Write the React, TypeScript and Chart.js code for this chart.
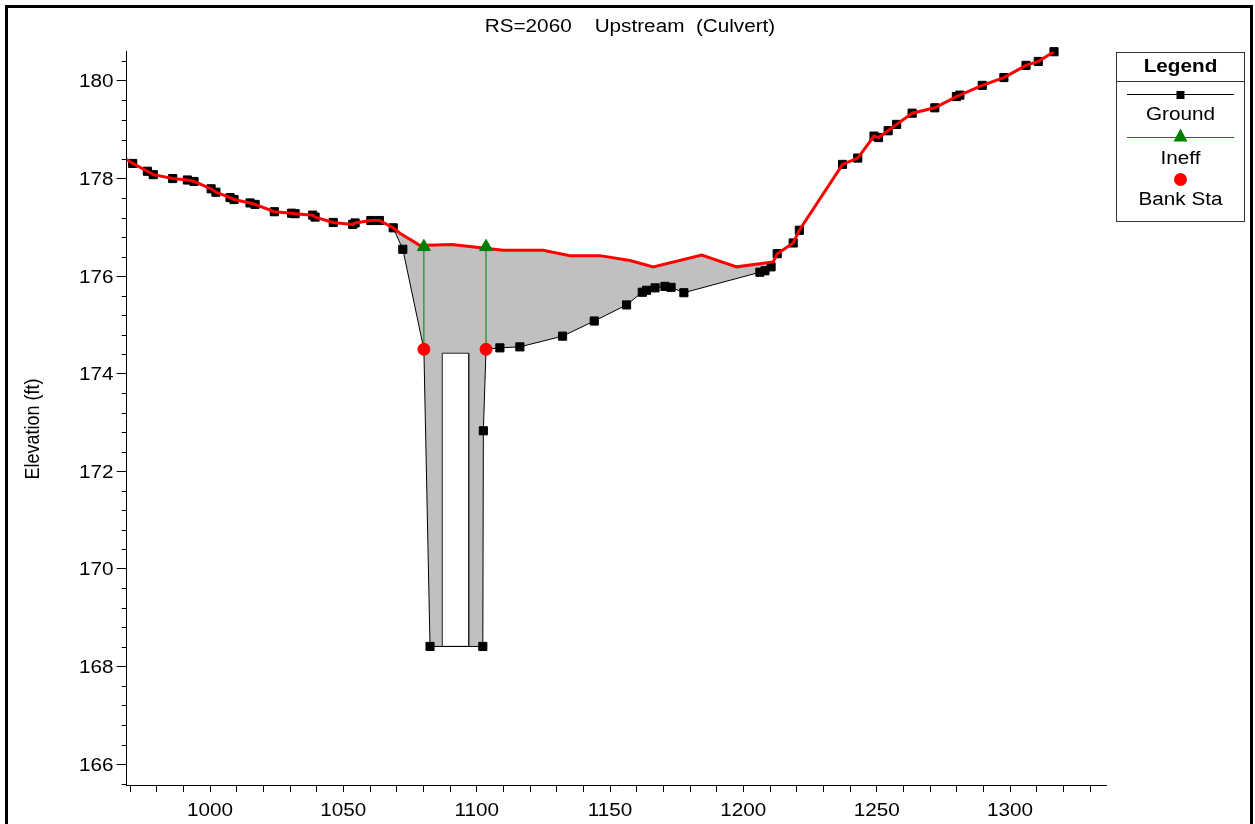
import React, { useEffect, useRef } from 'react';
import { Chart, registerables } from 'chart.js';

Chart.register(...registerables);

// ---- Cross-section data (station ft, elevation ft) ----
const groundSta = [971.0, 976.5, 978.7, 986.0, 991.5, 994.0, 1000.4, 1002.2, 1007.5, 1009.0, 1015.0, 1016.9, 1024.1, 1030.6, 1031.9, 1038.5, 1039.4, 1046.2, 1053.5, 1054.4, 1060.3, 1063.5, 1068.7, 1072.3, 1080.2, 1082.5, 1102.3, 1102.5, 1103.5, 1108.7, 1116.2, 1132.2, 1144.1, 1156.2, 1162.1, 1163.7, 1166.9, 1170.6, 1172.9, 1177.7, 1206.2, 1208.1, 1210.4, 1212.7, 1218.7, 1221.0, 1237.2, 1242.9, 1249.0, 1250.7, 1254.3, 1257.5, 1263.3, 1271.8, 1279.9, 1281.2, 1289.6, 1297.7, 1306.0, 1310.6, 1316.5];
const groundElev = [178.31, 178.15, 178.08, 178.00, 177.97, 177.94, 177.79, 177.72, 177.61, 177.57, 177.50, 177.47, 177.32, 177.29, 177.28, 177.25, 177.21, 177.10, 177.06, 177.09, 177.14, 177.14, 176.99, 176.55, 174.50, 168.41, 168.41, 172.83, 174.50, 174.53, 174.55, 174.77, 175.08, 175.41, 175.67, 175.71, 175.76, 175.79, 175.77, 175.66, 176.08, 176.11, 176.19, 176.46, 176.68, 176.94, 178.29, 178.42, 178.87, 178.84, 178.98, 179.11, 179.34, 179.45, 179.68, 179.71, 179.91, 180.07, 180.32, 180.40, 180.60];

// Road / deck top profile (red)
const roadSta = [968.75, 971.0, 976.5, 978.7, 986.0, 991.5, 994.0, 1000.4, 1002.2, 1007.5, 1009.0, 1015.0, 1016.9, 1024.1, 1030.6, 1031.9, 1038.5, 1039.4, 1046.2, 1053.5, 1054.4, 1060.3, 1063.5, 1068.7, 1071.2, 1078.7, 1090.6, 1109.9, 1124.9, 1135.0, 1146.2, 1157.5, 1166.2, 1184.4, 1197.5, 1211.2, 1212.7, 1218.7, 1221.0, 1237.2, 1242.9, 1249.0, 1250.7, 1254.3, 1257.5, 1263.3, 1271.8, 1279.9, 1281.2, 1289.6, 1297.7, 1306.0, 1310.6, 1316.5];
const roadElev = [178.39, 178.31, 178.15, 178.08, 178.00, 177.97, 177.94, 177.79, 177.72, 177.61, 177.57, 177.50, 177.47, 177.32, 177.29, 177.28, 177.25, 177.21, 177.10, 177.06, 177.09, 177.14, 177.14, 176.99, 176.88, 176.63, 176.65, 176.53, 176.53, 176.42, 176.42, 176.32, 176.19, 176.43, 176.19, 176.29, 176.46, 176.68, 176.94, 178.29, 178.42, 178.87, 178.84, 178.98, 179.11, 179.34, 179.45, 179.68, 179.71, 179.91, 180.07, 180.32, 180.40, 180.60];

// Stations where the embankment fill leaves / rejoins the ground
const embankmentLimits = [1068.7, 1212.7];

const bankSta = [1080.2, 1103.5];
const bankElev = [174.5, 174.5];
const ineffElev = [176.6, 176.6];

// Box culvert opening
const culvertSpan = [1087.1, 1097.0];
const culvertInvert = 168.41;
const culvertCrown = 174.42;

// Axes
const xRange = [968.75, 1336];
const yRange = [165.57, 180.6];
const xTickStep = 10;
const xLabelStep = 50;
const yTickTenths = 4; // minor tick every 0.4 ft
const yLabelStep = 2;

const titleText = 'RS=2060    Upstream  (Culvert)';
const yAxisTitle = 'Elevation (ft)';
const legendTitle = 'Legend';
const legendLabels = ['Ground', 'Ineff', 'Bank Sta'];

const FAMILY = '"Liberation Sans", Arial, Helvetica, sans-serif';
const TEXT_PX = 18;
const TEXT_STRETCH = 1.15; // wide-set lettering
const GRAY = '#c0c0c0';
const RED = '#ff0000';
const GREEN = '#008000';

const toPoints = (xs: number[], ys: number[]) => xs.map((x, i) => ({ x, y: ys[i] }));

const isYMajor = (v: number) => Math.abs(v / yLabelStep - Math.round(v / yLabelStep)) < 1e-6;

function wideText(ctx: CanvasRenderingContext2D, text: string, x: number, y: number, align: CanvasTextAlign, bold = false) {
  ctx.save();
  ctx.translate(x, y);
  ctx.scale(TEXT_STRETCH, 1);
  ctx.font = `${bold ? 'bold ' : ''}${TEXT_PX}px ${FAMILY}`;
  ctx.textAlign = align;
  ctx.textBaseline = 'alphabetic';
  ctx.fillStyle = '#000';
  ctx.fillText(text, 0, 0);
  ctx.restore();
}

const decorPlugin = {
  id: 'decor',
  afterDraw(chart: any) {
    const { ctx, chartArea } = chart;
    const xs = chart.scales.x;
    const ys = chart.scales.y;
    ctx.save();

    // outer frame
    ctx.strokeStyle = '#000';
    ctx.lineWidth = 3;
    ctx.strokeRect(6.5, 6.5, 1245, 840);

    // title
    wideText(ctx, titleText, 630, 31.5, 'center');

    // minor y ticks
    ctx.lineWidth = 1;
    ctx.strokeStyle = '#000';
    ctx.beginPath();
    for (const t of ys.ticks) {
      if (isYMajor(t.value)) continue;
      const py = Math.round(ys.getPixelForValue(t.value)) + 0.5;
      ctx.moveTo(chartArea.left - 5, py);
      ctx.lineTo(chartArea.left, py);
    }
    ctx.stroke();

    // tick labels
    for (const t of xs.ticks) {
      if (t.value % xLabelStep !== 0) continue;
      wideText(ctx, String(t.value), xs.getPixelForValue(t.value), 815.7, 'center');
    }
    for (const t of ys.ticks) {
      if (!isYMajor(t.value)) continue;
      wideText(ctx, String(Math.round(t.value)), 113.5, ys.getPixelForValue(t.value) + 6.5, 'right');
    }

    // y axis title (rotated)
    ctx.save();
    ctx.translate(33, 429);
    ctx.rotate(-Math.PI / 2);
    ctx.scale(1, TEXT_STRETCH);
    ctx.font = `${TEXT_PX}px ${FAMILY}`;
    ctx.textAlign = 'center';
    ctx.textBaseline = 'middle';
    ctx.fillStyle = '#000';
    ctx.fillText(yAxisTitle, 0, 0);
    ctx.restore();

    // legend box
    const L = 1116.5, R = 1244.5, T = 52.5, B = 221.5, cx = (L + R) / 2;
    ctx.fillStyle = '#fff';
    ctx.fillRect(L, T, R - L, B - T);
    ctx.strokeStyle = '#333';
    ctx.lineWidth = 1;
    ctx.strokeRect(L, T, R - L, B - T);
    ctx.beginPath();
    ctx.moveTo(L, 81.5);
    ctx.lineTo(R, 81.5);
    ctx.stroke();

    wideText(ctx, legendTitle, cx, 72.3, 'center', true);

    // Ground entry
    ctx.strokeStyle = '#000';
    ctx.beginPath();
    ctx.moveTo(1127, 94.5);
    ctx.lineTo(1234, 94.5);
    ctx.stroke();
    ctx.fillStyle = '#000';
    ctx.fillRect(cx - 4, 91, 8, 8);

    // Ineff entry
    ctx.strokeStyle = GREEN;
    ctx.beginPath();
    ctx.moveTo(1127, 137.5);
    ctx.lineTo(1234, 137.5);
    ctx.stroke();
    ctx.fillStyle = GREEN;
    ctx.beginPath();
    ctx.moveTo(cx, 128.5);
    ctx.lineTo(cx + 7, 141.5);
    ctx.lineTo(cx - 7, 141.5);
    ctx.closePath();
    ctx.fill();

    // Bank Sta entry
    ctx.fillStyle = RED;
    ctx.beginPath();
    ctx.arc(cx, 179.5, 6.5, 0, Math.PI * 2);
    ctx.fill();

    wideText(ctx, legendLabels[0], cx, 120, 'center');
    wideText(ctx, legendLabels[1], cx, 164, 'center');
    wideText(ctx, legendLabels[2], cx, 205, 'center');

    ctx.restore();
  },
};

export default function App() {
  const ref = useRef<HTMLCanvasElement>(null);

  useEffect(() => {
    document.body.style.margin = '0';
    const canvas = ref.current;
    if (!canvas) return;

    const groundPts = toPoints(groundSta, groundElev);
    const roadPts = toPoints(roadSta, roadElev);
    const [fillFrom, fillTo] = embankmentLimits;
    const inFill = (p: { x: number }) => p.x >= fillFrom && p.x <= fillTo;
    const embankmentPts = [...roadPts.filter(inFill), ...groundPts.filter(inFill).reverse()];
    const [c0, c1] = culvertSpan;
    const culvertPts = [
      { x: c0, y: culvertInvert },
      { x: c0, y: culvertCrown },
      { x: c1, y: culvertCrown },
      { x: c1, y: culvertInvert },
      { x: c0, y: culvertInvert },
    ];

    const ineffSets = bankSta.map((s, i) => ({
      label: 'Ineff',
      data: [{ x: s, y: bankElev[i] }, { x: s, y: ineffElev[i] }],
      borderColor: GREEN,
      borderWidth: 1,
      pointStyle: 'triangle',
      pointRadius: [0, 7.5],
      pointBackgroundColor: GREEN,
      pointBorderColor: GREEN,
      pointBorderWidth: 1,
      fill: false,
      order: 1,
      clip: false,
    }));

    const chart = new Chart(canvas, {
      type: 'line',
      data: {
        datasets: [
          {
            label: 'Bank Sta',
            data: toPoints(bankSta, bankElev),
            showLine: false,
            pointStyle: 'circle',
            pointRadius: 6,
            pointBackgroundColor: RED,
            pointBorderColor: RED,
            pointBorderWidth: 1,
            order: 0,
            clip: false,
          },
          ...ineffSets,
          {
            label: 'Road',
            data: roadPts,
            borderColor: RED,
            borderWidth: 3,
            pointRadius: 0,
            fill: false,
            order: 2,
          },
          {
            label: 'Ground',
            data: groundPts,
            borderColor: '#000',
            borderWidth: 1,
            pointStyle: 'rect',
            pointRadius: 5.75,
            pointBackgroundColor: '#000',
            pointBorderColor: '#000',
            pointBorderWidth: 1,
            fill: false,
            order: 3,
            clip: false,
          },
          {
            label: 'Culvert',
            data: culvertPts,
            borderColor: '#222',
            borderWidth: 1,
            backgroundColor: '#ffffff',
            pointRadius: 0,
            fill: 'shape',
            order: 4,
          },
          {
            label: 'Embankment',
            data: embankmentPts,
            borderColor: 'rgba(0,0,0,0)',
            borderWidth: 1,
            backgroundColor: GRAY,
            pointRadius: 0,
            fill: 'shape',
            order: 5,
          },
        ] as any,
      },
      options: {
        animation: false,
        responsive: false,
        maintainAspectRatio: false,
        events: [],
        elements: { line: { tension: 0 } },
        layout: { padding: { left: 0, right: 149, top: 51.7, bottom: 0 } },
        plugins: {
          legend: { display: false },
          title: { display: false },
          tooltip: { enabled: false },
        },
        scales: {
          x: {
            type: 'linear',
            min: xRange[0],
            max: xRange[1],
            afterBuildTicks: (s: any) => {
              const ticks = [];
              for (let v = Math.ceil(xRange[0] / xTickStep) * xTickStep; v <= xRange[1]; v += xTickStep) {
                ticks.push({ value: v });
              }
              s.ticks = ticks;
            },
            afterFit: (s: any) => {
              s.height = 39;
            },
            ticks: { display: false, autoSkip: false },
            grid: {
              drawOnChartArea: false,
              drawTicks: true,
              tickLength: 7,
              tickColor: '#000',
              tickWidth: 1,
            },
            border: { display: true, color: '#000', width: 1 },
          },
          y: {
            type: 'linear',
            min: yRange[0],
            max: yRange[1],
            afterBuildTicks: (s: any) => {
              const ticks = [];
              const k0 = Math.ceil((yRange[0] * 10) / yTickTenths);
              const k1 = Math.floor((yRange[1] * 10) / yTickTenths);
              for (let k = k0; k <= k1; k++) ticks.push({ value: (k * yTickTenths) / 10 });
              s.ticks = ticks;
            },
            afterFit: (s: any) => {
              s.width = 126.7;
            },
            ticks: { display: false, autoSkip: false },
            grid: {
              drawOnChartArea: false,
              drawTicks: true,
              tickLength: 10,
              tickWidth: 1,
              tickColor: (c: any) => (c.tick && isYMajor(c.tick.value) ? '#000' : 'rgba(0,0,0,0)'),
            },
            border: { display: true, color: '#000', width: 1 },
          },
        },
      } as any,
      plugins: [decorPlugin],
    });

    return () => chart.destroy();
  }, []);

  return (
    <div style={{ width: 1255, height: 824, background: '#fff' }}>
      <canvas ref={ref} width={1255} height={824} style={{ display: 'block' }} />
    </div>
  );
}
